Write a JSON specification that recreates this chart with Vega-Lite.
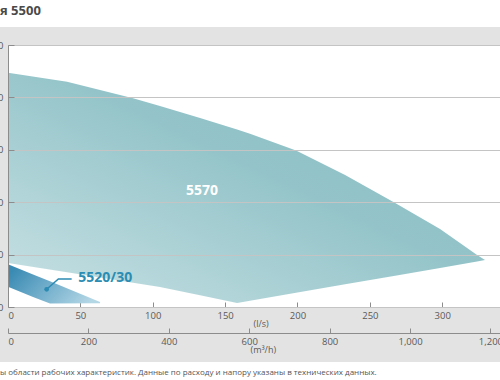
{
  "$schema": "https://vega.github.io/schema/vega-lite/v6.json",
  "autosize": "none",
  "width": 495,
  "height": 262,
  "padding": {"left": 8, "top": 45, "right": 0, "bottom": 73},
  "background": "#e3e3e3",
  "config": {
    "font": "Open Sans",
    "view": {"fill": "white", "stroke": "#9a9a9a", "strokeWidth": 1},
    "axis": {
      "domainColor": "#8c8c8c",
      "tickColor": "#8c8c8c",
      "labelColor": "#5a5a5a",
      "labelFontSize": 9.5,
      "titleColor": "#5a5a5a",
      "titleFontSize": 9,
      "titleFontWeight": "normal"
    }
  },
  "datasets": {
    "s5570": [
      {"x": 0, "top": 223.6, "bottom": 42.0},
      {"x": 40.8, "top": 215.0, "bottom": 33.1},
      {"x": 86.4, "top": 199.1, "bottom": 23.2},
      {"x": 105, "top": 191.8, "bottom": 19.1},
      {"x": 132.7, "top": 180.3, "bottom": 11.1},
      {"x": 158.3, "top": 169.4, "bottom": 3.8},
      {"x": 167.2, "top": 165.4, "bottom": 5.9},
      {"x": 199.0, "top": 149.3, "bottom": 13.5},
      {"x": 232.9, "top": 126.0, "bottom": 21.6},
      {"x": 267.5, "top": 99.2, "bottom": 29.9},
      {"x": 298.5, "top": 74.4, "bottom": 37.3},
      {"x": 324.1, "top": 49.6, "bottom": 43.5},
      {"x": 329.6, "top": 44.8, "bottom": 44.8}
    ],
    "s5520": [
      {"x": 0, "top": 40.7, "bottom": 19.4},
      {"x": 17.3, "top": 31.0, "bottom": 9.5},
      {"x": 29.0, "top": 24.5, "bottom": 3.3},
      {"x": 63.6, "top": 4.8, "bottom": 3.6}
    ],
    "leader": [
      {"x": 26.7, "y": 16.9, "o": 1},
      {"x": 34.8, "y": 26.7, "o": 2},
      {"x": 44.0, "y": 26.7, "o": 3}
    ],
    "labels": [
      {"x": 123.0, "y": 111.0, "label": "5570", "series": "5570"},
      {"x": 48.6, "y": 27.4, "label": "5520/30", "series": "5520/30"}
    ],
    "m3h": [{"m3h": 0}, {"m3h": 1200}]
  },
  "layer": [
    {
      "layer": [
        {
          "data": {"name": "s5570"},
          "mark": {
            "type": "area",
            "color": {
              "gradient": "linear",
              "x1": 0, "y1": 1, "x2": 1, "y2": 0,
              "stops": [
                {"offset": 0, "color": "#c9e2e5"},
                {"offset": 0.55, "color": "#94c4c9"},
                {"offset": 1, "color": "#86bcc2"}
              ]
            }
          },
          "encoding": {
            "x": {
              "field": "x", "type": "quantitative",
              "scale": {"domain": [0, 342], "nice": false, "zero": false},
              "axis": {
                "values": [0, 50, 100, 150, 200, 250, 300],
                "grid": false,
                "tickSize": -5,
                "labelPadding": 8,
                "title": "(l/s)",
                "titleX": 245,
                "titleY": 16,
                "titleAlign": "left",
                "titleBaseline": "middle"
              }
            },
            "y": {
              "field": "top", "type": "quantitative",
              "scale": {"domain": [0, 250], "nice": false, "zero": false},
              "axis": {
                "values": [0, 50, 100, 150, 200, 250],
                "grid": true,
                "gridColor": "#c4c4c4",
                "tickSize": -6,
                "labelPadding": 11,
                "title": null,
                "zindex": 1
              }
            },
            "y2": {"field": "bottom"}
          }
        },
        {
          "data": {"values": [{}]},
          "mark": {"type": "rect", "color": "white"},
          "encoding": {
            "x": {"datum": -50, "type": "quantitative"},
            "x2": {"datum": 400},
            "y": {"datum": 267.2, "type": "quantitative"},
            "y2": {"datum": 400}
          }
        },
        {
          "data": {"values": [{}]},
          "mark": {"type": "rect", "color": "white"},
          "encoding": {
            "x": {"datum": -50, "type": "quantitative"},
            "x2": {"datum": 400},
            "y": {"datum": -52.5, "type": "quantitative"},
            "y2": {"datum": -120}
          }
        },
        {
          "data": {"name": "s5520"},
          "mark": {
            "type": "area",
            "color": {
              "gradient": "linear",
              "x1": 0, "y1": 0.3, "x2": 1, "y2": 0.7,
              "stops": [
                {"offset": 0, "color": "#3a8bb4"},
                {"offset": 1, "color": "#b4d7e6"}
              ]
            }
          },
          "encoding": {
            "x": {"field": "x", "type": "quantitative"},
            "y": {"field": "top", "type": "quantitative"},
            "y2": {"field": "bottom"}
          }
        },
        {
          "data": {"name": "leader"},
          "mark": {"type": "line", "color": "#2b8bb3", "strokeWidth": 1.5},
          "encoding": {
            "x": {"field": "x", "type": "quantitative"},
            "y": {"field": "y", "type": "quantitative"},
            "order": {"field": "o"}
          }
        },
        {
          "data": {"name": "leader"},
          "transform": [{"filter": "datum.o == 1"}],
          "mark": {"type": "point", "filled": true, "color": "#2b8bb3", "size": 22, "opacity": 1},
          "encoding": {
            "x": {"field": "x", "type": "quantitative"},
            "y": {"field": "y", "type": "quantitative"}
          }
        },
        {
          "data": {"name": "labels"},
          "mark": {"type": "text", "fontSize": 14, "fontWeight": "bold", "align": "left", "baseline": "middle"},
          "encoding": {
            "x": {"field": "x", "type": "quantitative"},
            "y": {"field": "y", "type": "quantitative"},
            "text": {"field": "label"},
            "color": {
              "field": "series", "type": "nominal",
              "scale": {"domain": ["5570", "5520/30"], "range": ["#ffffff", "#2b8db3"]},
              "legend": null
            }
          }
        },
        {
          "data": {"values": [{}]},
          "mark": {"type": "text", "fontSize": 13, "fontWeight": "bold", "color": "#4a4a4a", "align": "left", "baseline": "middle"},
          "encoding": {
            "x": {"datum": -5.5, "type": "quantitative"},
            "y": {"datum": 282.4, "type": "quantitative"},
            "text": {"value": "я 5500"}
          }
        },
        {
          "data": {"values": [{}]},
          "mark": {"type": "text", "fontSize": 8, "color": "#555555", "align": "left", "baseline": "middle"},
          "encoding": {
            "x": {"datum": -5.5, "type": "quantitative"},
            "y": {"datum": -63.0, "type": "quantitative"},
            "text": {"value": "ы области рабочих характеристик. Данные по расходу и напору указаны в технических данных."}
          }
        }
      ]
    },
    {
      "data": {"name": "m3h"},
      "mark": {"type": "rule", "opacity": 0},
      "encoding": {
        "x": {
          "field": "m3h", "type": "quantitative",
          "scale": {"domain": [0, 1231.2], "nice": false, "zero": false},
          "axis": {
            "orient": "bottom",
            "offset": 26,
            "values": [0, 200, 400, 600, 800, 1000, 1200],
            "format": ",.0f",
            "grid": false,
            "tickSize": -5,
            "labelPadding": 8,
            "title": "(m³/h)",
            "titleX": 242,
            "titleY": 16,
            "titleAlign": "left",
            "titleBaseline": "middle"
          }
        }
      }
    }
  ],
  "resolve": {"scale": {"x": "independent"}, "axis": {"x": "independent"}}
}
